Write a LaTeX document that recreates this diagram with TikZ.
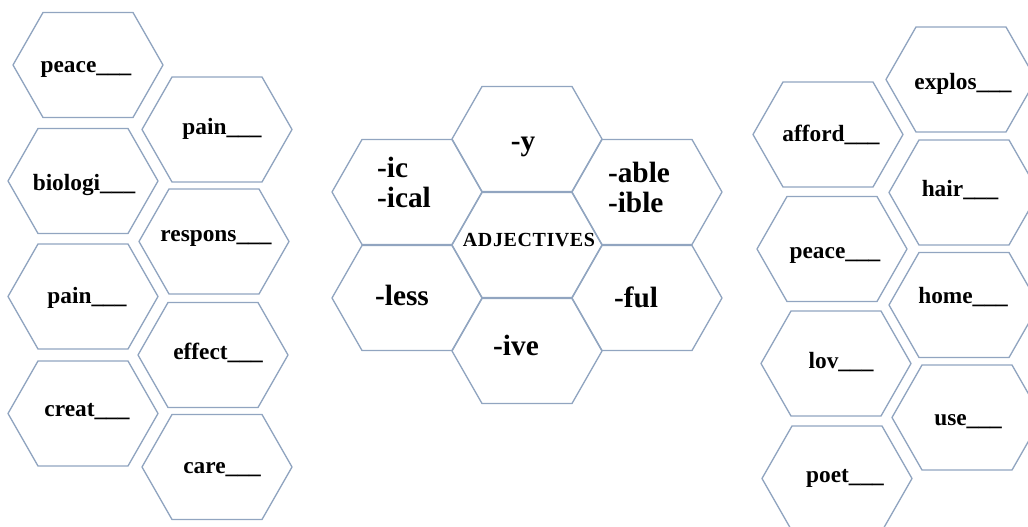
\documentclass[tikz,border=0pt]{standalone}
\usepackage{fontspec}
\setmainfont{Liberation Serif}
\usetikzlibrary{positioning}
\definecolor{hexblue}{RGB}{145,165,192}
\tikzset{
    hexline/.style={
        draw=hexblue, line width=1pt, line join=round
    },
    word/.style={
        font=\fontsize{17.5}{20}\selectfont\bfseries,
        inner sep=0pt, text height=0.46em, text depth=0pt,
        yshift=-2.5pt
    },
    suffix/.style={
        font=\fontsize{22}{26}\selectfont\bfseries,
        inner sep=0pt, text height=0.46em, text depth=0pt,
        yshift=-4pt
    },
    suffixes/.style={
        font=\fontsize{22}{22.5}\selectfont\bfseries,
        inner sep=0pt, align=left
    },
    title/.style={
        font=\fontsize{15}{18}\selectfont\bfseries\addfontfeature{LetterSpace=3},
        inner sep=0pt, text height=0.66em, text depth=0pt
    }
}
\newcommand{\hexcell}[5][word]{%
    \draw[hexline] (#3) ++(-75,0) -- ++(30,-52.5) -- ++(90,0) -- ++(30,52.5)
        -- ++(-30,52.5) -- ++(-90,0) -- cycle;
    \node[#1] (#2) at (#4) {#5};
}

\begin{document}
\begin{tikzpicture}[x=0.75pt, y=-0.75pt]
    \clip (0,0) rectangle (1028,526);
    % left words
    \hexcell{peaceL}{88,65}{86,66}{peace\_\_\_}
    \hexcell{biologi}{83,181}{84,184}{biologi\_\_\_}
    \hexcell{painL}{83,296.5}{87,297}{pain\_\_\_}
    \hexcell{creat}{83,413.5}{87,410}{creat\_\_\_}
    \hexcell{painM}{217,129.5}{222,128}{pain\_\_\_}
    \hexcell{respons}{214,241.5}{216,235}{respons\_\_\_}
    \hexcell{effect}{213,355}{218,353}{effect\_\_\_}
    \hexcell{care}{217,467}{222,467}{care\_\_\_}
    % suffixes
    \hexcell[suffix]{y}{527,139}{523,142}{-y}
    \hexcell[suffixes]{ic}{407,192}{404,182}{-ic\\-ical}
    \hexcell[suffixes]{able}{647,192}{639,187}{-able\\-ible}
    \hexcell[title]{adj}{527,245}{529,242.5}{ADJECTIVES}
    \hexcell[suffix]{less}{407,298}{402,297}{-less}
    \hexcell[suffix]{ful}{647,298}{636,299}{-ful}
    \hexcell[suffix]{ive}{527,351}{516,347}{-ive}
    % right words
    \hexcell{afford}{828,134.5}{831,135}{afford\_\_\_}
    \hexcell{peaceR}{832,249}{835,252}{peace\_\_\_}
    \hexcell{lov}{836,363.5}{841,362}{lov\_\_\_}
    \hexcell{poet}{837,478.5}{845,476}{poet\_\_\_}
    \hexcell{explos}{961,79.5}{963,83}{explos\_\_\_}
    \hexcell{hair}{964,192.5}{960,190}{hair\_\_\_}
    \hexcell{home}{964,305}{963,297}{home\_\_\_}
    \hexcell{use}{967,417.5}{968,419}{use\_\_\_}
\end{tikzpicture}
\end{document}
